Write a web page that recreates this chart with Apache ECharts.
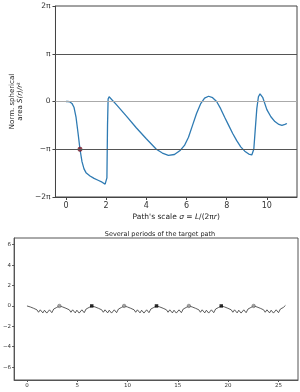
<!DOCTYPE html>
<html>
<head>
<meta charset="utf-8">
<script src="https://cdn.jsdelivr.net/npm/echarts@6/dist/echarts.min.js"></script>
<style>
html,body{margin:0;padding:0;background:#fff;}
#chart{width:300px;height:392px;}
</style>
</head>
<body>
<div id="chart"></div>
<script>
// ---- Top panel: normalized spherical area (in units of pi) vs path scale sigma
var sigma = [0,0.1,0.2,0.3,0.4,0.5,0.6,0.7,0.8,0.9,1.0,1.2,1.4,1.6,1.8,1.95,2.0,2.04,2.07,2.1,2.15,
  2.5,3.0,3.5,4.0,4.5,4.8,5.1,5.4,5.7,5.9,6.1,6.3,6.5,6.7,6.9,7.1,7.3,7.5,7.7,7.9,8.1,8.3,8.5,8.7,8.9,9.1,9.25,
  9.35,9.42,9.5,9.58,9.66,9.8,10.0,10.2,10.4,10.6,10.75,10.9,11.0];
var areaPi = [0,0,-0.01,-0.04,-0.12,-0.32,-0.65,-1.0,-1.26,-1.41,-1.49,-1.56,-1.61,-1.65,-1.69,-1.73,-1.75,-1.6,-0.5,0.05,0.1,
  -0.06,-0.3,-0.55,-0.78,-1.0,-1.08,-1.13,-1.11,-1.02,-0.92,-0.75,-0.5,-0.25,-0.05,0.07,0.11,0.08,0.0,-0.15,-0.33,-0.5,-0.67,-0.82,-0.95,-1.04,-1.1,-1.12,
  -1.0,-0.6,-0.15,0.1,0.16,0.08,-0.17,-0.32,-0.42,-0.48,-0.5,-0.48,-0.46];
var markSigma = [0.7];
var markAreaPi = [-1.0];
var topXTicks = [0,2,4,6,8,10];
var topYTicks = [-2,-1,0,1,2];
var topYLabels = ['\u22122\u03c0','\u2212\u03c0','0','\u03c0','2\u03c0'];

// ---- Bottom panel: several periods of the target path
var pathX = [0,0.33,0.66,0.99,1.15,1.32,1.58,1.74,1.97,2.24,2.47,2.66,2.95,3.22,
  3.55,3.88,4.21,4.37,4.54,4.80,4.96,5.19,5.46,5.69,5.88,6.17,6.44,
  6.77,7.10,7.43,7.59,7.76,8.02,8.18,8.41,8.68,8.91,9.10,9.39,9.66,
  9.99,10.32,10.65,10.81,10.98,11.24,11.40,11.63,11.90,12.13,12.32,12.61,12.88,
  13.21,13.54,13.87,14.03,14.20,14.46,14.62,14.85,15.12,15.35,15.54,15.83,16.10,
  16.43,16.76,17.09,17.25,17.42,17.68,17.84,18.07,18.34,18.57,18.76,19.05,19.32,
  19.65,19.98,20.31,20.47,20.64,20.90,21.06,21.29,21.56,21.79,21.98,22.27,22.54,
  22.87,23.20,23.53,23.69,23.86,24.12,24.28,24.51,24.78,25.01,25.20,25.49,25.70];
var pathY = [0,-0.1,-0.23,-0.38,-0.62,-0.38,-0.68,-0.42,-0.7,-0.38,-0.66,-0.3,-0.15,0,
  -0.1,-0.23,-0.38,-0.62,-0.38,-0.68,-0.42,-0.7,-0.38,-0.66,-0.3,-0.15,0,
  -0.1,-0.23,-0.38,-0.62,-0.38,-0.68,-0.42,-0.7,-0.38,-0.66,-0.3,-0.15,0,
  -0.1,-0.23,-0.38,-0.62,-0.38,-0.68,-0.42,-0.7,-0.38,-0.66,-0.3,-0.15,0,
  -0.1,-0.23,-0.38,-0.62,-0.38,-0.68,-0.42,-0.7,-0.38,-0.66,-0.3,-0.15,0,
  -0.1,-0.23,-0.38,-0.62,-0.38,-0.68,-0.42,-0.7,-0.38,-0.66,-0.3,-0.15,0,
  -0.1,-0.23,-0.38,-0.62,-0.38,-0.68,-0.42,-0.7,-0.38,-0.66,-0.3,-0.15,0,
  -0.1,-0.23,-0.38,-0.62,-0.38,-0.68,-0.42,-0.7,-0.38,-0.66,-0.3,-0.15,0.05];
var circleX = [3.22,9.66,16.10,22.54];
var circleY = [0,0,0,0];
var squareX = [6.44,12.88,19.32];
var squareY = [0,0,0];
var botXTicks = [0,5,10,15,20,25];
var botYTicks = [-6,-4,-2,0,2,4,6];

function zip(a,b){ return a.map(function(v,i){ return [v,b[i]]; }); }

var FONT = 'DejaVu Sans';
var chart = echarts.init(document.getElementById('chart'), null, {renderer:'canvas'});
chart.setOption({
  animation:false,
  backgroundColor:'#fff',
  textStyle:{fontFamily:FONT},
  title:{
    text:'Several periods of the target path',
    left:155, top:226, textAlign:'center',
    textStyle:{fontSize:6.5, fontWeight:'normal', color:'#222', fontFamily:FONT}
  },
  grid:[
    {left:41, top:6, width:256, height:191, show:true, borderColor:'#444', borderWidth:1, backgroundColor:'transparent'},
    {left:12, top:238, width:286, height:142, show:true, borderColor:'#555', borderWidth:1, backgroundColor:'transparent'}
  ],
  xAxis:[
    {gridIndex:0, type:'value', min:-0.52, max:11.5, position:'bottom',
     axisLine:{show:true, onZero:false, lineStyle:{color:'#444'}},
     axisTick:{show:true, length:3, inside:false, customValues:topXTicks, lineStyle:{color:'#444'}},
     axisLabel:{show:true, customValues:topXTicks, fontSize:8, color:'#333', margin:5, fontFamily:FONT},
     splitLine:{show:false},
     name:"Path's scale {i|\u03c3} = {i|L}/(2\u03c0{i|r})", nameLocation:'middle', nameGap:16,
     nameTextStyle:{fontSize:7.5, color:'#222', fontFamily:FONT, rich:{i:{fontStyle:'italic', fontSize:7.5, fontFamily:FONT, color:'#222'}}}
    },
    {gridIndex:1, type:'value', min:-1.28, max:26.95, position:'bottom',
     axisLine:{show:true, onZero:false, lineStyle:{color:'#555'}},
     axisTick:{show:true, length:2, customValues:botXTicks, lineStyle:{color:'#555'}},
     axisLabel:{show:true, customValues:botXTicks, fontSize:5.5, color:'#333', margin:3, fontFamily:FONT},
     splitLine:{show:false}
    }
  ],
  yAxis:[
    {gridIndex:0, type:'value', min:-2, max:2, position:'left',
     axisLine:{show:true, onZero:false, lineStyle:{color:'#444'}},
     axisTick:{show:true, length:3, customValues:topYTicks, lineStyle:{color:'#444'}},
     axisLabel:{show:true, customValues:topYTicks, fontSize:7.5, color:'#333', margin:5, fontFamily:FONT,
       formatter:function(v){ var i = topYTicks.indexOf(Math.round(v)); return i>=0 ? topYLabels[i] : ''; }},
     splitLine:{show:false},
     name:'Norm. spherical\narea {i|S(r)/r}\u00b2', nameLocation:'middle', nameGap:19, nameRotate:90,
     nameTextStyle:{fontSize:7, color:'#222', lineHeight:8, align:'center', fontFamily:FONT,
       rich:{i:{fontStyle:'italic', fontSize:7, fontFamily:FONT, color:'#222'}}}
    },
    {gridIndex:1, type:'value', min:-7.26, max:6.66, position:'left',
     axisLine:{show:true, onZero:false, lineStyle:{color:'#555'}},
     axisTick:{show:true, length:2, customValues:botYTicks, lineStyle:{color:'#555'}},
     axisLabel:{show:true, customValues:botYTicks, fontSize:5.5, color:'#333', margin:3, fontFamily:FONT,
       formatter:function(v){ return v<0 ? '\u2212'+Math.abs(v) : String(v); }},
     splitLine:{show:false}
    }
  ],
  series:[
    {type:'line', xAxisIndex:0, yAxisIndex:0, data:[], silent:true, z:1,
     markLine:{silent:true, symbol:'none', animation:false, label:{show:false},
       lineStyle:{type:'solid', width:1},
       data:[{yAxis:1, lineStyle:{color:'#555', type:'solid', width:1}},
             {yAxis:0, lineStyle:{color:'#aaa', type:'solid', width:1}},
             {yAxis:-1, lineStyle:{color:'#555', type:'solid', width:1}}]}
    },
    {type:'line', xAxisIndex:0, yAxisIndex:0, data:zip(sigma, areaPi), showSymbol:false, smooth:false, z:3,
     lineStyle:{color:'#2f7bb3', width:1.3}},
    {type:'scatter', xAxisIndex:0, yAxisIndex:0, data:zip(markSigma, markAreaPi), symbol:'circle', symbolSize:4.5, z:4,
     itemStyle:{color:'#8b1c2a', borderColor:'#5a0f18', borderWidth:0.5}},
    {type:'line', xAxisIndex:1, yAxisIndex:1, data:zip(pathX, pathY), showSymbol:false, smooth:false, z:3,
     lineStyle:{color:'#333', width:0.8}},
    {type:'scatter', xAxisIndex:1, yAxisIndex:1, data:zip(circleX, circleY), symbol:'circle', symbolSize:3.5, z:4,
     itemStyle:{color:'#999', borderColor:'#555', borderWidth:0.6}},
    {type:'scatter', xAxisIndex:1, yAxisIndex:1, data:zip(squareX, squareY), symbol:'rect', symbolSize:3.5, z:4,
     itemStyle:{color:'#000'}}
  ]
});
</script>
</body>
</html>
